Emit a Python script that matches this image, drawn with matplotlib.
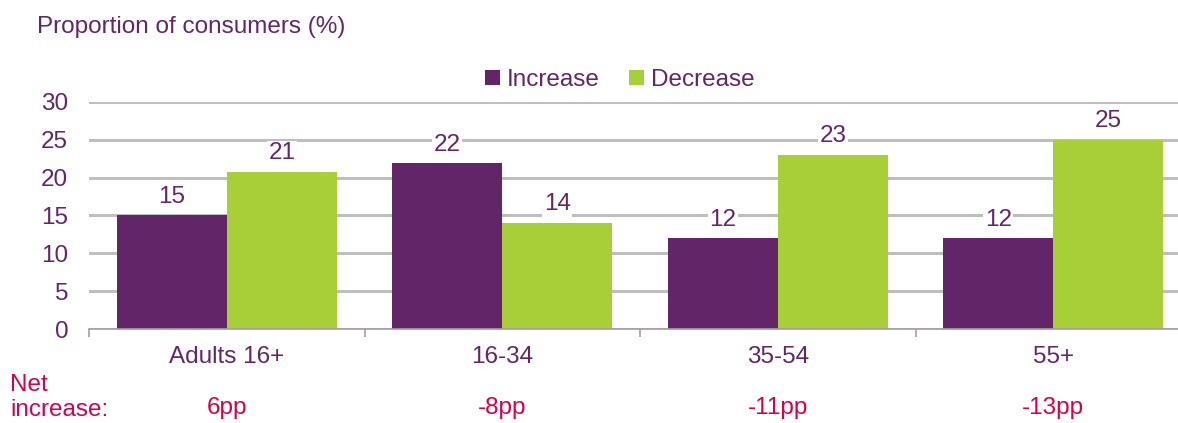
"""Consumers reporting an increase / decrease, by age group"""

import numpy as np
from matplotlib import pyplot as plt
from matplotlib.ticker import FixedLocator

plt.rcParams['font.family'] = ['Liberation Sans', 'DejaVu Sans']

# data
categories = ['Adults 16+', '16-34', '35-54', '55+']
increase = [15.0, 21.9, 12.0, 12.0]
decrease = [20.8, 14.0, 23.0, 25.0]
net_labels = ['6pp', '-8pp', '-11pp', '-13pp']
yticks = [0, 5, 10, 15, 20, 25, 30]

PURPLE = '#622567'
GREEN = '#A8CF38'
TEXT = '#632766'
RED = '#D6004B'
GRID = '#BFBFBF'
FS = 17.5

fig = plt.figure(figsize=(11.78, 4.23), dpi=100)
ax = fig.add_axes([89 / 1178, 1 - 329 / 423, 1102 / 1178, 227 / 423])

x = np.arange(len(categories))
width = 0.4
bars_inc = ax.bar(x - width / 2, increase, width, color=PURPLE, label='Increase', zorder=2)
bars_dec = ax.bar(x + width / 2, decrease, width, color=GREEN, label='Decrease', zorder=2)

# value labels above bars
for bars in (bars_inc, bars_dec):
    for b in bars:
        h = b.get_height()
        ax.text(b.get_x() + b.get_width() / 2, h + 1.0, '{:.0f}'.format(h),
                ha='center', va='bottom', fontsize=FS, color=TEXT, zorder=3,
                bbox=dict(facecolor='white', edgecolor='none', pad=1))

ax.set_ylim(0, 30)
ax.set_xlim(-0.5, len(categories) - 0.5)
ax.set_yticks(yticks)
ax.yaxis.grid(True, color=GRID, linewidth=2.2, zorder=0)
ax.set_axisbelow(True)
for side in ('left', 'right', 'top'):
    ax.spines[side].set_visible(False)
ax.spines['bottom'].set_color('#A99AAA')
ax.spines['bottom'].set_linewidth(1.2)

ax.tick_params(axis='y', length=0, labelsize=FS, labelcolor=TEXT, pad=15)
ax.set_xticks(x)
ax.set_xticklabels(categories)
ax.tick_params(axis='x', which='major', length=0, labelsize=FS, labelcolor=TEXT, pad=12)
ax.xaxis.set_minor_locator(FixedLocator(np.arange(-0.5, len(categories), 1.0)))
ax.tick_params(axis='x', which='minor', length=6, color='#A99AAA', width=1.2)

# net increase row
for xi, lab in zip(x, net_labels):
    ax.text(xi, -10.4, lab, ha='center', va='center', fontsize=FS, color=RED,
            transform=ax.transData, clip_on=False)
fig.text(10 / 1178, 1 - 385 / 423, 'Net', ha='left', va='center', fontsize=FS, color=RED)
fig.text(10 / 1178, 2 / 423, 'increase:', ha='left', va='bottom', fontsize=FS, color=RED)

fig.text(37 / 1178, 1 - 27 / 423, 'Proportion of consumers (%)', ha='left', va='center',
         fontsize=FS, color=TEXT)

fig.legend(loc='center', bbox_to_anchor=(620 / 1178, 1 - 80 / 423), ncol=2, frameon=False,
           fontsize=FS, labelcolor=TEXT, handlelength=0.6, handleheight=0.6,
           handletextpad=0.3, columnspacing=1.2)

fig.savefig('out.png', dpi=100)
